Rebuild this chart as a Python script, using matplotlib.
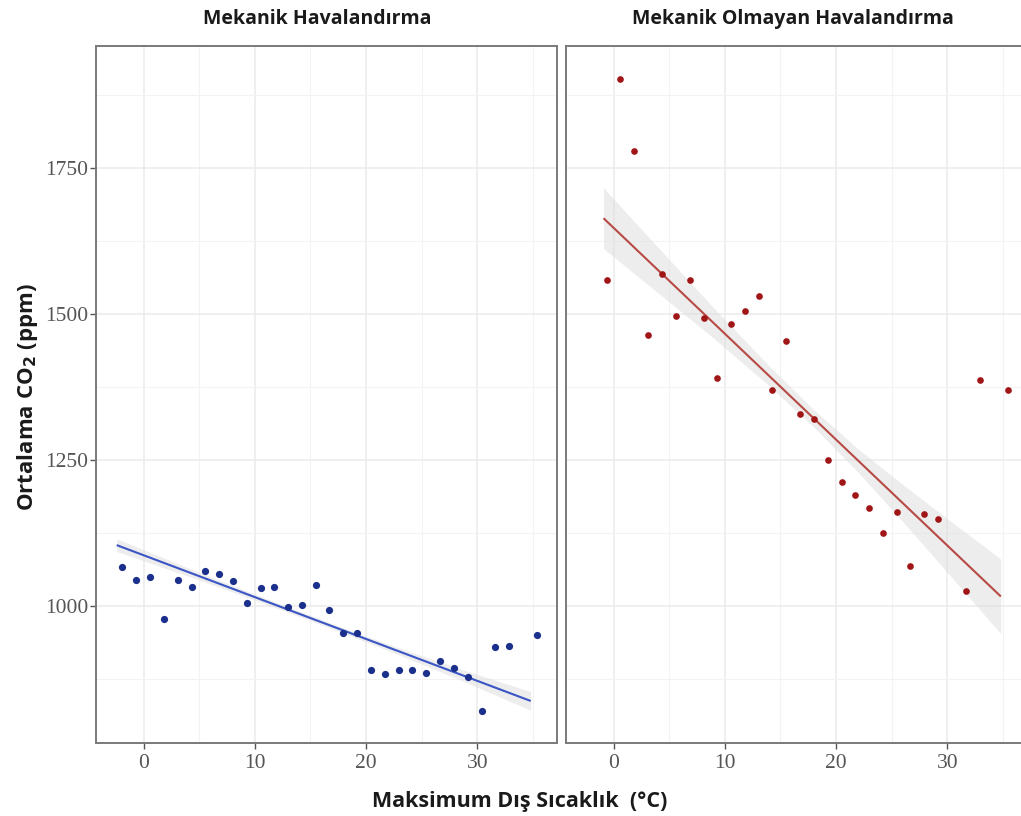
import numpy as np
import matplotlib
matplotlib.use("Agg")
import matplotlib.pyplot as plt
from matplotlib.ticker import MultipleLocator

plt.rcParams["mathtext.fontset"] = "dejavusans"

# Panel titles
panel_titles = ["Mekanik Havalandırma", "Mekanik Olmayan Havalandırma"]

# Mechanical ventilation: max outdoor temperature (°C) vs mean CO2 (ppm)
mech_temp = [-1.90, -0.67, 0.58, 1.84, 3.07, 4.33, 5.55, 6.81, 8.04, 9.27,
             10.53, 11.75, 13.01, 14.24, 15.5, 16.69, 17.95, 19.18, 20.44, 21.67,
             22.93, 24.15, 25.41, 26.64, 27.9, 29.13, 30.39, 31.61, 32.87, 35.35]
mech_co2 = [1067, 1045, 1049, 978, 1045, 1032, 1060, 1055, 1042, 1005,
            1030, 1032, 998, 1001, 1036, 992, 953, 953, 890, 884,
            890, 890, 885, 905, 893, 878, 819, 929, 931, 950]

# Linear trend (end points) and its 95% band half-width for mechanical ventilation
mech_fit_temp = [-2.41, 34.79]
mech_fit_co2 = [1104, 837]
mech_band_temp = [-2.41, 4, 10, 16, 22, 28, 34.79]
mech_band_half = [11, 7, 5, 4.5, 5.5, 9, 16]

# Non-mechanical ventilation
nat_temp = [-0.63, 0.60, 1.86, 3.09, 4.35, 5.57, 6.83, 8.09, 9.32, 10.55,
            11.77, 13.03, 14.26, 15.52, 16.75, 18.0, 19.23, 20.49, 21.72, 22.97,
            24.2, 25.46, 26.68, 27.94, 29.17, 31.66, 32.9, 35.4]
nat_co2 = [1559, 1902, 1779, 1464, 1568, 1497, 1558, 1493, 1390, 1482,
           1505, 1531, 1370, 1453, 1329, 1320, 1250, 1212, 1190, 1167,
           1125, 1161, 1068, 1158, 1148, 1025, 1386, 1369]

nat_fit_temp = [-0.9, 34.8]
nat_fit_co2 = [1664, 1016]
nat_band_temp = [-0.9, 4, 9, 14, 18, 22, 26, 30, 34.8]
nat_band_half = [52, 39, 26, 17, 15, 20, 32, 46, 64]

y_ticks = [1000, 1250, 1500, 1750]
x_ticks = [0, 10, 20, 30]

W, H = 1021, 816
fig = plt.figure(figsize=(W / 100, H / 100), dpi=100)
fig.patch.set_facecolor("white")

top, bottom = 46, 743
panels = [(96, 557), (566, 1027)]
series = [
    (mech_temp, mech_co2, mech_fit_temp, mech_fit_co2, mech_band_temp,
     mech_band_half, "#1b2f8c", "#3a55c4", 5.2),
    (nat_temp, nat_co2, nat_fit_temp, nat_fit_co2, nat_band_temp,
     nat_band_half, "#a01515", "#b84a45", 4.8),
]

for i, ((x0, x1), s) in enumerate(zip(panels, series)):
    xt, yc, fx, fy, bx, bh, pc, lc, ms = s
    ax = fig.add_axes([x0 / W, (H - bottom) / H, (x1 - x0) / W, (bottom - top) / H])
    ax.set_xlim(-4.27, 37.15)
    ax.set_ylim(765, 1959)
    ax.xaxis.set_minor_locator(MultipleLocator(5))
    ax.yaxis.set_minor_locator(MultipleLocator(125))
    ax.set_xticks(x_ticks)
    ax.set_yticks(y_ticks)
    ax.grid(which="major", color="#ebebeb", lw=1.1, zorder=0)
    ax.grid(which="minor", color="#f3f3f3", lw=0.8, zorder=0)
    ax.tick_params(which="minor", length=0)
    ax.tick_params(which="major", direction="out", length=4, width=1,
                   color="#555555", labelcolor="#555555", labelsize=15.5)
    ax.tick_params(axis="y", pad=1.5)
    ax.tick_params(axis="x", pad=4)
    for lab in ax.get_xticklabels() + ax.get_yticklabels():
        lab.set_family("Liberation Serif")
    if i == 1:
        ax.tick_params(axis="y", left=False, labelleft=False)
    for sp in ax.spines.values():
        sp.set_color("#7a7a7a")
        sp.set_linewidth(1.4)
    ax.set_axisbelow(True)

    # trend line and confidence band
    slope = (fy[1] - fy[0]) / (fx[1] - fx[0])
    bx = np.asarray(bx, float)
    by = fy[0] + slope * (bx - fx[0])
    bh = np.asarray(bh, float)
    ax.fill_between(bx, by - bh, by + bh, color="#d9d9d9", alpha=0.45,
                    lw=0, zorder=2)
    ax.plot(fx, fy, color=lc, lw=1.5, zorder=3, solid_capstyle="butt")
    ax.plot(xt, yc, "o", color=pc, ms=ms, mec="none", zorder=4)

    cx = (x0 + x1) / 2
    fig.text(cx / W - (0.009 if i == 0 else 0.003), 1 - 19 / H, panel_titles[i],
             ha="center", va="center", fontsize=14, fontweight="bold",
             family="Open Sans", color="#1a1a1a")

fig.text(28 / W, 1 - 397 / H, r"Ortalama CO$_\mathbf{2}$ (ppm)", rotation=90,
         ha="center", va="center", fontsize=16, fontweight="bold",
         family="Open Sans", color="#1a1a1a")
fig.text(520 / W, 1 - 801 / H, "Maksimum Dış Sıcaklık  (°C)",
         ha="center", va="center", fontsize=15.5, fontweight="bold",
         family="Open Sans", color="#1a1a1a")

fig.savefig("out.png", dpi=100, facecolor="white")
